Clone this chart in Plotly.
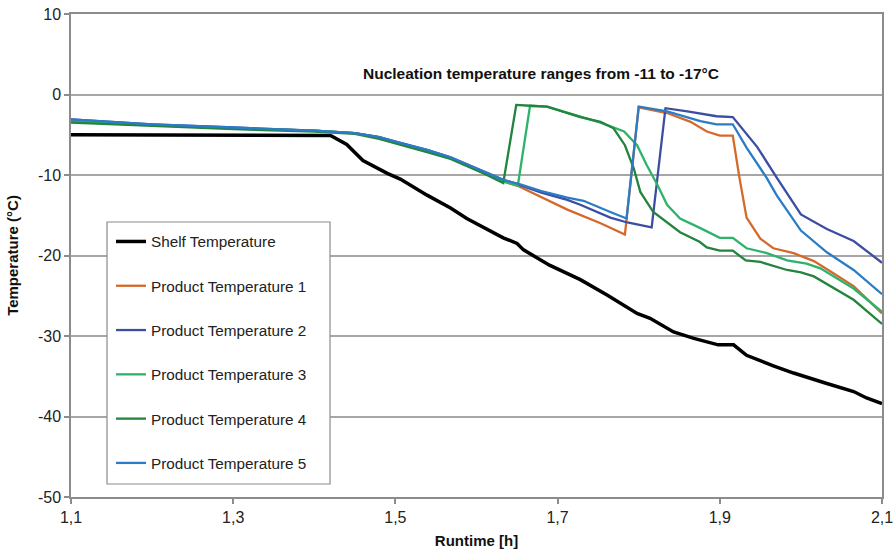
import plotly.graph_objects as go

# Runtime [h] / temperature [°C] readings for each probe
shelf_t = [1.10, 1.25, 1.42, 1.44, 1.46, 1.49, 1.506, 1.539, 1.568, 1.588, 1.613, 1.633, 1.65, 1.658,
           1.69, 1.728, 1.761, 1.798, 1.814, 1.843, 1.868, 1.889, 1.898, 1.917, 1.933, 1.966, 1.991,
           2.032, 2.065, 2.081, 2.10]
shelf_v = [-5.0, -5.0, -5.1, -6.2, -8.2, -9.8, -10.5, -12.5, -14.1, -15.4, -16.8, -17.8, -18.5, -19.3,
           -21.2, -23.0, -24.9, -27.2, -27.8, -29.5, -30.3, -30.9, -31.1, -31.1, -32.4, -33.7, -34.6,
           -35.9, -36.9, -37.7, -38.4]

p1_t = [1.10, 1.20, 1.30, 1.40, 1.45, 1.48, 1.506, 1.54, 1.568, 1.609, 1.633, 1.652, 1.712, 1.753,
        1.783, 1.800, 1.835, 1.864, 1.884, 1.900, 1.916, 1.924, 1.933, 1.950, 1.966, 1.991, 2.016,
        2.040, 2.065, 2.10]
p1_v = [-3.3, -3.8, -4.2, -4.5, -4.8, -5.3, -6.1, -7.0, -7.9, -9.7, -10.8, -11.4, -14.3, -16.0,
        -17.4, -1.6, -2.3, -3.4, -4.6, -5.1, -5.1, -10.2, -15.3, -17.9, -19.1, -19.7, -20.7,
        -22.2, -23.8, -27.2]

p2_t = [1.10, 1.20, 1.30, 1.40, 1.45, 1.48, 1.506, 1.54, 1.568, 1.609, 1.633, 1.652, 1.68, 1.712,
        1.728, 1.765, 1.786, 1.816, 1.833, 1.86, 1.896, 1.916, 1.946, 1.97, 2.00, 2.032, 2.065, 2.10]
p2_v = [-3.1, -3.7, -4.1, -4.5, -4.8, -5.3, -6.0, -6.9, -7.8, -9.6, -10.6, -11.2, -12.2, -13.1,
        -13.7, -15.3, -15.9, -16.5, -1.7, -2.1, -2.7, -2.8, -6.5, -10.3, -14.9, -16.7, -18.2, -20.9]

p3_t = [1.10, 1.20, 1.30, 1.40, 1.45, 1.48, 1.506, 1.54, 1.568, 1.609, 1.633, 1.651, 1.666, 1.687,
        1.728, 1.753, 1.782, 1.798, 1.810, 1.823, 1.835, 1.851, 1.876, 1.900, 1.916, 1.933, 1.958,
        1.983, 2.007, 2.024, 2.065, 2.10]
p3_v = [-3.3, -3.8, -4.2, -4.5, -4.8, -5.4, -6.1, -7.1, -7.9, -9.7, -10.8, -11.3, -1.4, -1.5,
        -2.8, -3.5, -4.6, -6.3, -8.8, -11.2, -13.7, -15.4, -16.6, -17.8, -17.8, -19.1, -19.7,
        -20.6, -21.0, -21.6, -24.1, -27.0]

p4_t = [1.10, 1.20, 1.30, 1.40, 1.45, 1.48, 1.506, 1.54, 1.568, 1.609, 1.633, 1.649, 1.666, 1.687,
        1.728, 1.753, 1.769, 1.783, 1.794, 1.802, 1.818, 1.839, 1.851, 1.875, 1.884, 1.900, 1.916,
        1.932, 1.950, 1.983, 2.000, 2.016, 2.040, 2.065, 2.10]
p4_v = [-3.5, -3.9, -4.3, -4.6, -4.9, -5.5, -6.2, -7.2, -8.0, -9.8, -11.0, -1.3, -1.4, -1.5,
        -2.8, -3.4, -4.2, -6.3, -9.2, -12.1, -14.6, -16.2, -17.1, -18.3, -19.0, -19.4, -19.4,
        -20.6, -20.8, -21.8, -22.1, -22.6, -24.0, -25.5, -28.5]

p5_t = [1.10, 1.20, 1.30, 1.40, 1.45, 1.48, 1.506, 1.54, 1.568, 1.609, 1.633, 1.652, 1.68, 1.712,
        1.732, 1.765, 1.785, 1.800, 1.835, 1.876, 1.896, 1.916, 1.933, 1.958, 1.970, 2.000, 2.032,
        2.065, 2.10]
p5_v = [-3.1, -3.7, -4.1, -4.5, -4.8, -5.3, -6.0, -6.9, -7.8, -9.6, -10.6, -11.1, -12.0, -12.8,
        -13.2, -14.6, -15.4, -1.5, -2.1, -3.3, -3.7, -3.7, -6.6, -10.4, -12.5, -16.9, -19.6,
        -21.8, -24.8]

series_names = ["Shelf Temperature", "Product Temperature 1", "Product Temperature 2",
                "Product Temperature 3", "Product Temperature 4", "Product Temperature 5"]
series_colors = ["#000000", "#D4692B", "#3B4EA2", "#2DB36A", "#23843D", "#2B7CC6"]
series_widths = [3.5, 2.3, 2.3, 2.3, 2.3, 2.3]

x_ticks = [1.1, 1.3, 1.5, 1.7, 1.9, 2.1]
x_tick_labels = ["1,1", "1,3", "1,5", "1,7", "1,9", "2,1"]
y_ticks = [10, 0, -10, -20, -30, -40, -50]
y_tick_labels = ["10", "0", "-10", "-20", "-30", "-40", "-50"]

note_text = "Nucleation temperature ranges from -11 to -17°C"

FONT = "Arial, 'Liberation Sans', sans-serif"
GRID = "#A6A6A6"
AXIS = "#8C8C8C"

data = [(shelf_t, shelf_v), (p1_t, p1_v), (p2_t, p2_v), (p3_t, p3_v), (p4_t, p4_v), (p5_t, p5_v)]

fig = go.Figure()
for i, ((t, v), name) in enumerate(zip(data, series_names)):
    fig.add_trace(go.Scatter(
        x=t, y=v, mode="lines", name=name, legendgroup=f"g{i}",
        line=dict(color=series_colors[i], width=series_widths[i]),
    ))

fig.add_annotation(
    x=1.679, y=2.55, xref="x", yref="y", text=f"<b>{note_text}</b>", showarrow=False,
    font=dict(family=FONT, size=15.5, color="#111111"), xanchor="center", yanchor="middle",
)

# framed white panel behind the legend entries
fig.add_shape(
    type="rect", xref="paper", yref="paper", x0=0.0444, x1=0.3194, y0=0.0269, y1=0.5694,
    fillcolor="white", line=dict(color="#8C8C8C", width=1.2), layer="above",
)

fig.update_layout(
    width=894, height=549,
    margin=dict(l=71, r=12, t=14, b=52),
    paper_bgcolor="white", plot_bgcolor="white",
    font=dict(family=FONT, size=15, color="#222222"),
    showlegend=True,
    legend=dict(
        x=0.0493, y=0.5631, xanchor="left", yanchor="top",
        bgcolor="rgba(0,0,0,0)", borderwidth=0,
        font=dict(family=FONT, size=15.3, color="#222222"),
        tracegroupgap=21.4, traceorder="grouped",
    ),
    xaxis=dict(
        range=[1.1, 2.1], tickvals=x_ticks, ticktext=x_tick_labels, automargin=False,
        showgrid=False, zeroline=False,
        showline=True, linecolor=AXIS, linewidth=1.5, mirror=True,
        ticks="outside", ticklen=5, tickcolor=AXIS, tickwidth=1.5,
        tickfont=dict(family=FONT, size=16, color="#222222"),
        title=dict(text="<b>Runtime [h]</b>", font=dict(family=FONT, size=15, color="#111111"), standoff=11),
    ),
    yaxis=dict(
        range=[-50, 10], tickvals=y_ticks, ticktext=y_tick_labels, automargin=False,
        showgrid=True, gridcolor=GRID, gridwidth=1.5, zeroline=False,
        showline=True, linecolor=AXIS, linewidth=1.5, mirror=True,
        ticks="outside", ticklen=5, tickcolor=AXIS, tickwidth=1.5,
        tickfont=dict(family=FONT, size=16, color="#222222"),
        title=dict(text="<b>Temperature (°C)</b>", font=dict(family=FONT, size=15, color="#111111"), standoff=16),
    ),
)

fig.write_html("out.html")
